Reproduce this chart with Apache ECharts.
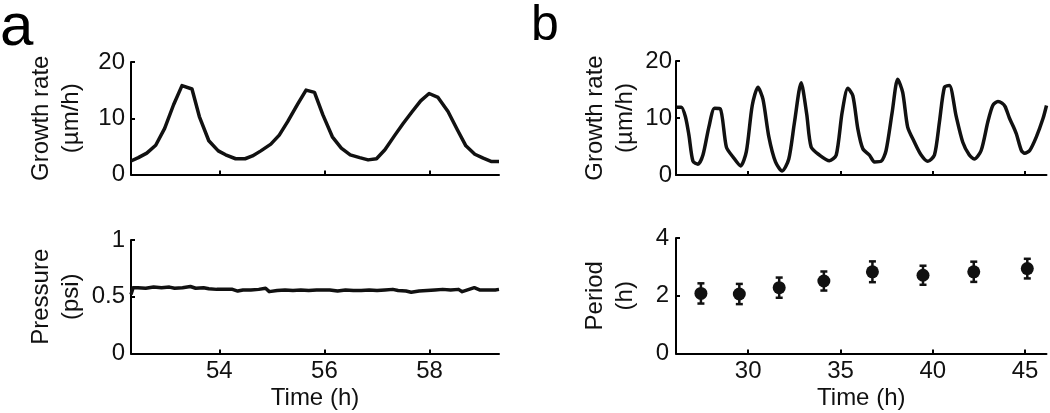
<!DOCTYPE html>
<html>
<head>
<meta charset="utf-8">
<script src="https://cdn.jsdelivr.net/npm/echarts@6/dist/echarts.min.js"></script>
<style>
  html, body { margin: 0; padding: 0; background: #fff; }
  #chart { width: 1050px; height: 413px; }
</style>
</head>
<body>
<div id="chart"></div>
<script>
// panel a: growth rate (µm/h) vs time (h)
const growthATime = [52.32, 52.46, 52.62, 52.79, 52.96, 53.13, 53.29, 53.48, 53.62, 53.80,
  53.98, 54.12, 54.31, 54.49, 54.63, 54.79, 54.98, 55.14, 55.30, 55.49,
  55.65, 55.81, 55.97, 56.15, 56.32, 56.49, 56.67, 56.83, 56.99, 57.15,
  57.34, 57.50, 57.67, 57.83, 57.99, 58.16, 58.35, 58.53, 58.69, 58.86,
  59.02, 59.18, 59.32];
const growthAValue = [2.4, 3.0, 3.8, 5.2, 8.2, 12.4, 15.8, 15.2, 10.3, 6.0,
  4.2, 3.5, 2.8, 2.8, 3.3, 4.2, 5.4, 7.0, 9.4, 12.5,
  15.0, 14.6, 10.6, 6.7, 4.7, 3.5, 3.0, 2.6, 2.8, 4.4,
  7.0, 9.1, 11.2, 13.1, 14.4, 13.7, 11.2, 7.9, 5.1, 3.6,
  2.9, 2.3, 2.3];

// panel a: pressure (psi) vs time (h)
const pressureTime = [52.32, 52.36, 52.45, 52.6, 52.75, 52.9, 53.05, 53.15, 53.3, 53.45,
  53.55, 53.7, 53.8, 53.95, 54.1, 54.25, 54.35, 54.45, 54.6, 54.75,
  54.88, 54.95, 55.1, 55.25, 55.4, 55.55, 55.7, 55.85, 56.0, 56.1,
  56.25, 56.4, 56.55, 56.7, 56.85, 57.0, 57.15, 57.3, 57.4, 57.55,
  57.65, 57.8, 57.95, 58.1, 58.25, 58.4, 58.55, 58.62, 58.75, 58.85,
  58.95, 59.1, 59.25, 59.32];
const pressureValue = [0.52, 0.58, 0.58, 0.575, 0.585, 0.58, 0.585, 0.575, 0.58, 0.59,
  0.575, 0.58, 0.57, 0.565, 0.565, 0.565, 0.55, 0.56, 0.56, 0.565,
  0.575, 0.545, 0.555, 0.56, 0.555, 0.56, 0.555, 0.56, 0.56, 0.56,
  0.55, 0.56, 0.555, 0.555, 0.56, 0.555, 0.56, 0.565, 0.555, 0.55,
  0.54, 0.55, 0.555, 0.56, 0.565, 0.56, 0.565, 0.545, 0.565, 0.58,
  0.56, 0.56, 0.56, 0.565];

// panel b: growth rate (µm/h) vs time (h)
const growthBTime = [26.14, 26.38, 26.61, 26.79, 27.01, 27.28, 27.55, 27.87, 28.18, 28.49,
  28.82, 29.17, 29.59, 29.90, 30.22, 30.53, 30.80, 31.12, 31.48, 31.84,
  32.20, 32.51, 32.87, 33.17, 33.41, 33.86, 34.40, 34.77, 35.09, 35.40,
  35.67, 35.94, 36.21, 36.57, 36.84, 37.20, 37.47, 37.80, 38.10, 38.37,
  38.64, 39.00, 39.37, 39.73, 40.09, 40.36, 40.63, 40.90, 41.26, 41.62,
  41.98, 42.25, 42.62, 42.98, 43.25, 43.53, 43.75, 43.92, 44.15, 44.35,
  44.53, 44.80, 44.98, 45.25, 45.61, 45.97, 46.16];
const growthBValue = [11.9, 11.9, 10.1, 7.0, 2.4, 1.9, 3.5, 8.4, 11.7, 11.6,
  4.9, 3.2, 1.6, 4.1, 12.2, 15.4, 13.3, 6.7, 2.3, 0.7,
  2.8, 9.3, 16.2, 10.7, 4.9, 3.5, 2.5, 3.5, 11.0, 15.2,
  13.9, 8.1, 4.6, 3.5, 2.3, 2.4, 4.3, 11.0, 16.8, 14.5,
  8.4, 5.8, 3.5, 2.4, 3.5, 9.3, 15.4, 15.7, 10.4, 5.8,
  3.5, 2.8, 4.3, 9.3, 12.2, 12.9, 12.6, 12.0, 10.0, 8.6,
  7.2, 4.3, 3.8, 4.3, 6.7, 9.9, 12.2];

// panel b: oscillation period (h) with error bars
const periodTime = [27.44, 29.52, 31.68, 34.10, 36.73, 39.47, 42.22, 45.12];
const periodValue = [2.08, 2.06, 2.28, 2.51, 2.83, 2.71, 2.83, 2.94];
const periodErr = [0.35, 0.35, 0.35, 0.33, 0.36, 0.33, 0.35, 0.34];

const ticksA = [54, 56, 58];
const ticksB = [30, 35, 40, 45];

const FONT = "'Liberation Sans', Arial, Helvetica, sans-serif";
const INK = "#111";
const SIZE = 24;

const pairs = (xs, ys) => xs.map((x, i) => [x, ys[i]]);

function xAxis(grid, min, max, ticks, showLabels) {
  return {
    type: "value",
    gridIndex: grid,
    min,
    max,
    axisLine: { onZero: false, lineStyle: { color: "#000", width: 2 } },
    axisTick: { inside: true, length: 4, customValues: ticks, lineStyle: { color: "#000", width: 2 } },
    axisLabel: {
      show: showLabels,
      customValues: ticks,
      margin: 6,
      fontSize: SIZE,
      color: INK,
      fontFamily: FONT,
    },
    splitLine: { show: false },
    name: showLabels ? "Time (h)" : "",
    nameLocation: "middle",
    nameGap: 33,
    nameTextStyle: { fontSize: SIZE, color: INK, fontFamily: FONT },
  };
}

function yAxis(grid, max, interval, name, gap, margin) {
  return {
    type: "value",
    gridIndex: grid,
    min: 0,
    max,
    interval,
    axisLine: { show: true, lineStyle: { color: "#000", width: 2 } },
    axisTick: { inside: true, length: 4, lineStyle: { color: "#000", width: 2 } },
    axisLabel: { margin, fontSize: SIZE, color: INK, fontFamily: FONT },
    splitLine: { show: false },
    name,
    nameLocation: "middle",
    nameRotate: 90,
    nameGap: gap,
    nameTextStyle: { fontSize: SIZE, lineHeight: 30, color: INK, fontFamily: FONT },
  };
}

function curve(idx, data, smooth) {
  return {
    type: "line",
    xAxisIndex: idx,
    yAxisIndex: idx,
    data,
    smooth,
    showSymbol: false,
    symbol: "none",
    lineStyle: { color: INK, width: 3.5, join: "round" },
    animation: false,
  };
}

const chart = echarts.init(document.getElementById("chart"), null, { renderer: "canvas" });

chart.setOption({
  backgroundColor: "#fff",
  animation: false,
  grid: [
    { left: 131, top: 62, width: 368, height: 112.5 },
    { left: 131, top: 240, width: 368, height: 113.5 },
    { left: 676, top: 61, width: 370.5, height: 114 },
    { left: 676, top: 238, width: 370.5, height: 115.5 },
  ],
  xAxis: [
    xAxis(0, 52.32, 59.32, ticksA, false),
    xAxis(1, 52.32, 59.32, ticksA, true),
    xAxis(2, 26.09, 46.16, ticksB, false),
    xAxis(3, 26.09, 46.16, ticksB, true),
  ],
  yAxis: [
    yAxis(0, 20, 10, "Growth rate\n(µm/h)", 45, 6),
    yAxis(1, 1, 0.5, "Pressure\n(psi)", 45, 6),
    yAxis(2, 20, 10, "Growth rate\n(µm/h)", 36, 4),
    yAxis(3, 4, 2, "Period\n(h)", 36, 7),
  ],
  graphic: [
    { type: "text", left: 0, top: -2, style: { text: "a", font: "60px " + FONT, fill: "#000" } },
    { type: "text", left: 531, top: 1, style: { text: "b", font: "50px " + FONT, fill: "#000" } },
  ],
  series: [
    curve(0, pairs(growthATime, growthAValue), false),
    curve(1, pairs(pressureTime, pressureValue), false),
    curve(2, pairs(growthBTime, growthBValue), 0.25),
    {
      type: "custom",
      xAxisIndex: 3,
      yAxisIndex: 3,
      data: periodTime.map((t, i) => [t, periodValue[i] - periodErr[i], periodValue[i] + periodErr[i]]),
      encode: { x: 0, y: [1, 2] },
      renderItem(params, api) {
        const x = api.value(0);
        const lo = api.coord([x, api.value(1)]);
        const hi = api.coord([x, api.value(2)]);
        const hw = 3.5;
        const st = { stroke: "#111", lineWidth: 2.5 };
        return {
          type: "group",
          children: [
            { type: "line", shape: { x1: hi[0], y1: hi[1], x2: lo[0], y2: lo[1] }, style: st },
            { type: "line", shape: { x1: hi[0] - hw, y1: hi[1], x2: hi[0] + hw, y2: hi[1] }, style: st },
            { type: "line", shape: { x1: lo[0] - hw, y1: lo[1], x2: lo[0] + hw, y2: lo[1] }, style: st },
          ],
        };
      },
      animation: false,
    },
    {
      type: "scatter",
      xAxisIndex: 3,
      yAxisIndex: 3,
      data: pairs(periodTime, periodValue),
      symbol: "circle",
      symbolSize: 13,
      itemStyle: { color: "#111", opacity: 1 },
      animation: false,
    },
  ],
});
</script>
</body>
</html>
